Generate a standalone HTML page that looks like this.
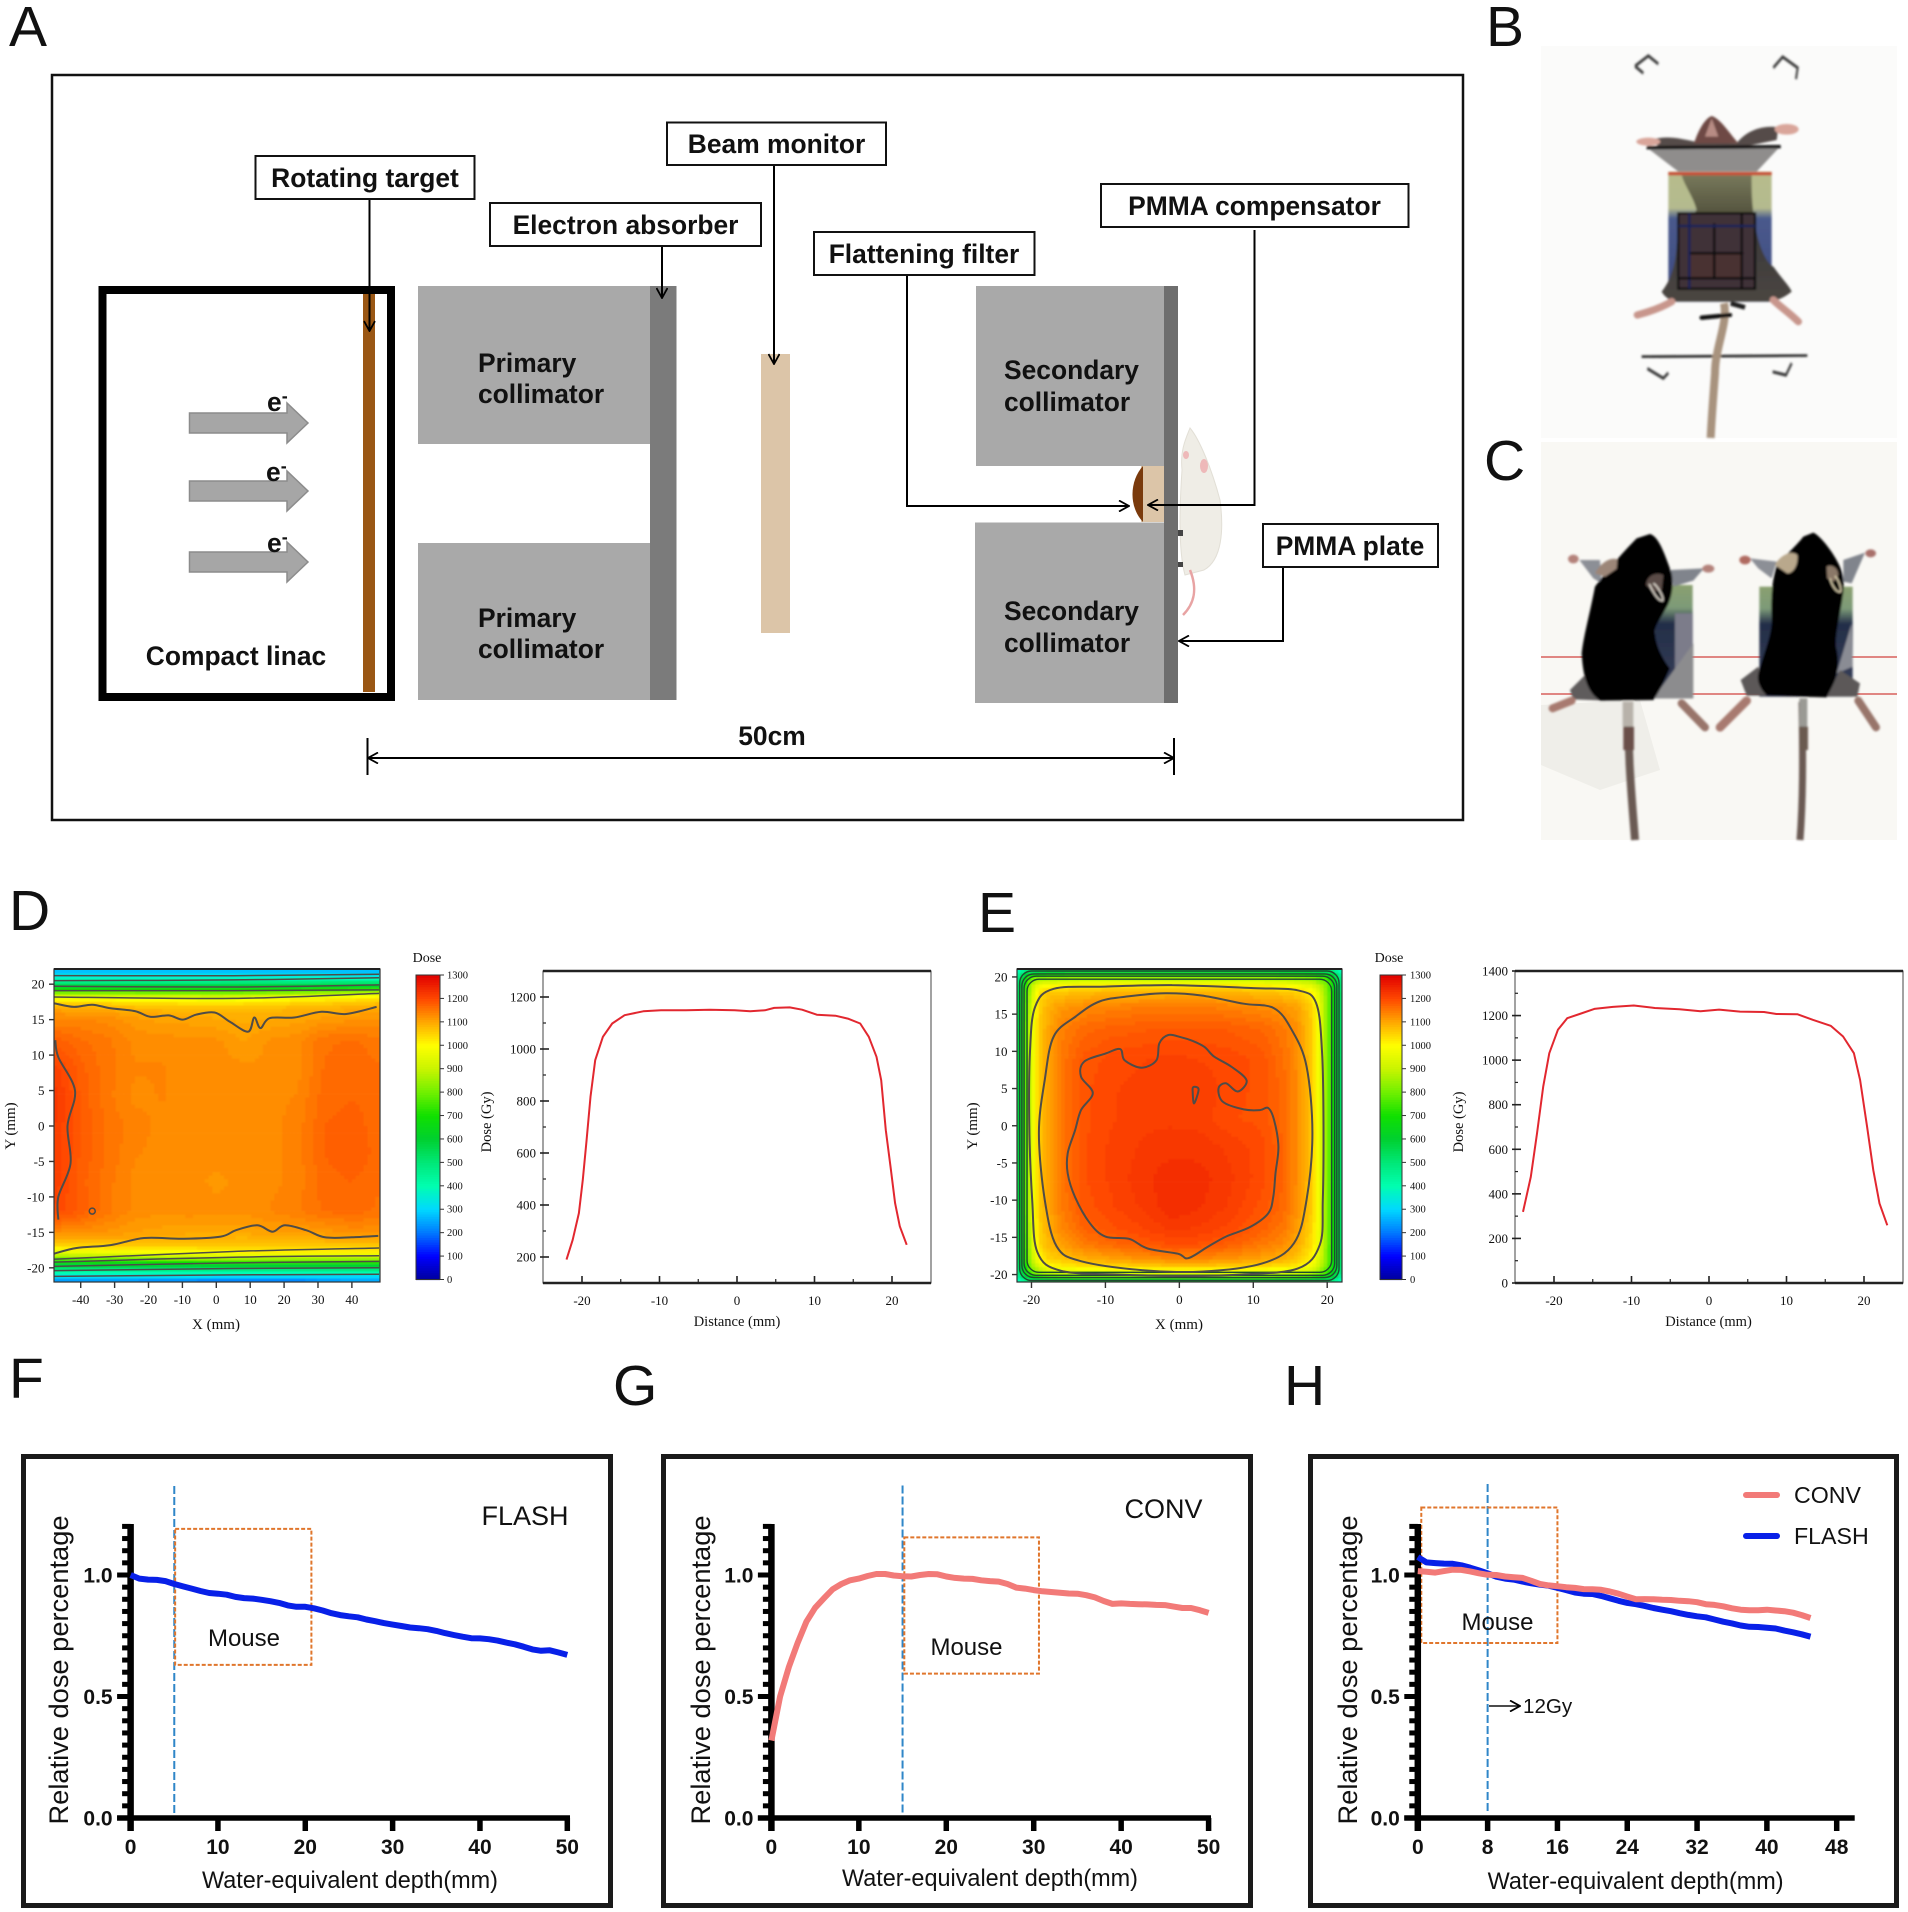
<!DOCTYPE html>
<html lang="en">
<head>
<meta charset="utf-8">
<title>Electron FLASH beam setup and dosimetry</title>
<style>
html,body{margin:0;padding:0;background:#fff}
svg{display:block}
text{font-family:"Liberation Sans",Arial,sans-serif;fill:#111}
.lab{font-weight:bold;font-size:26.4px;text-anchor:middle}
.sub{font-weight:bold;font-size:26.4px}
.pl{font-size:57px}
.sf{font-family:"Liberation Serif",serif}
</style>
</head>
<body>
<svg id="fig" xmlns="http://www.w3.org/2000/svg" width="1908" height="1912" viewBox="0 0 1908 1912">
<defs>
<marker id="ah" viewBox="0 0 12 12" refX="11" refY="6" markerWidth="12" markerHeight="12" markerUnits="userSpaceOnUse" orient="auto-start-reverse"><path d="M1,0.5 L11,6 L1,11.5" fill="none" stroke="#000" stroke-width="1.8"/></marker>
<filter id="blurD" x="-5%" y="-5%" width="110%" height="110%"><feGaussianBlur stdDeviation="0.9"/></filter>
<filter id="blurE" x="-5%" y="-5%" width="110%" height="110%"><feGaussianBlur stdDeviation="0.9"/></filter>
<filter id="blurP" x="-5%" y="-5%" width="110%" height="110%"><feGaussianBlur stdDeviation="1"/></filter>
<clipPath id="clipD"><rect x="54" y="969" width="326" height="313"/></clipPath>
<clipPath id="clipE"><rect x="1017" y="969" width="325" height="313"/></clipPath>
<linearGradient id="filmB" x1="0" y1="0" x2="0" y2="1">
<stop offset="0" stop-color="#b7bc8c"/><stop offset="0.28" stop-color="#b4ba8e"/><stop offset="0.36" stop-color="#4a5a8c"/><stop offset="1" stop-color="#3c4880"/>
</linearGradient>
<linearGradient id="filmC" x1="0" y1="0" x2="0" y2="1">
<stop offset="0" stop-color="#8aa070"/><stop offset="0.2" stop-color="#7d9a78"/><stop offset="0.34" stop-color="#232e48"/><stop offset="1" stop-color="#39405a"/>
</linearGradient>
<linearGradient id="trunkB" x1="0" y1="0" x2="0" y2="1">
<stop offset="0" stop-color="#77785a"/><stop offset="0.3" stop-color="#55543f"/><stop offset="0.4" stop-color="#3a3838"/><stop offset="1" stop-color="#4a4642"/>
</linearGradient>
</defs>
<rect x="0" y="0" width="1908" height="1912" fill="#fff"/>

<!-- panel letters -->
<text class="pl" x="9" y="46">A</text>
<text class="pl" x="1486" y="46">B</text>
<text class="pl" x="1484" y="480">C</text>
<text class="pl" x="9" y="930">D</text>
<text class="pl" x="978" y="932">E</text>
<text class="pl" x="9" y="1398">F</text>
<text class="pl" x="613" y="1405">G</text>
<text class="pl" x="1284" y="1405">H</text>

<!-- Panel A -->
<g>
<rect x="52" y="75" width="1411" height="745" fill="#fff" stroke="#111" stroke-width="2.5"/>
<rect x="102.5" y="290" width="288.500" height="407" fill="#fff" stroke="#000" stroke-width="8"/>
<rect x="363" y="294" width="12" height="398" fill="#9a5714"/>
<g fill="#a6a6a6" stroke="#8c8c8c" stroke-width="1.5">
<polygon points="189.500,413 287,413 287,403 308,423 287,443 287,433 189.500,433"/>
<polygon points="189.500,481 287,481 287,471 308,491 287,511 287,501 189.500,501"/>
<polygon points="189.500,552 287,552 287,542 308,562 287,582 287,572 189.500,572"/>
</g>
<text class="sub" x="267" y="411">e<tspan dy="-9" font-size="18">-</tspan></text>
<text class="sub" x="266" y="481">e<tspan dy="-9" font-size="18">-</tspan></text>
<text class="sub" x="267" y="552">e<tspan dy="-9" font-size="18">-</tspan></text>
<text class="lab" x="236" y="665">Compact linac</text>

<rect x="418" y="286" width="233" height="158" fill="#a9a9a9"/>
<rect x="418" y="543" width="233" height="157" fill="#a9a9a9"/>
<rect x="650" y="286" width="26.500" height="414" fill="#7b7b7b"/>
<text class="sub" x="478" y="372">Primary</text>
<text class="sub" x="478" y="403">collimator</text>
<text class="sub" x="478" y="627">Primary</text>
<text class="sub" x="478" y="658">collimator</text>

<rect x="761" y="354" width="29" height="279" fill="#dcc5a8"/>

<rect x="976" y="286" width="188" height="180" fill="#a9a9a9"/>
<rect x="975" y="522.500" width="189" height="180.500" fill="#a9a9a9"/>
<rect x="1164" y="286" width="14" height="417" fill="#6e6e6e"/>
<rect x="1141" y="466" width="23" height="56" fill="#dcc5a8"/>
<path d="M1143,466 C1130,480 1128,506 1143,522 Z" fill="#7a3a0c"/>
<text class="sub" x="1004" y="379">Secondary</text>
<text class="sub" x="1004" y="411">collimator</text>
<text class="sub" x="1004" y="620">Secondary</text>
<text class="sub" x="1004" y="652">collimator</text>

<g>
<path d="M1190,428 C1200,440 1212,470 1220,500 C1224,530 1222,560 1204,570 L1185,575 C1178,550 1180,500 1182,470 C1180,450 1186,438 1190,428 Z" fill="#efede6" stroke="#e2dfd6"/>
<ellipse cx="1204" cy="466" rx="4" ry="7" fill="#eeb9b9"/>
<ellipse cx="1186" cy="455" rx="3" ry="4" fill="#eeb9b9"/>
<path d="M1190,570 C1198,590 1194,604 1183,615" fill="none" stroke="#e8a3a3" stroke-width="2.5"/>
<rect x="1178" y="530" width="5" height="6" fill="#444"/>
<rect x="1178" y="562" width="5" height="5" fill="#444"/>
</g>

<g fill="none" stroke="#000" stroke-width="2">
<line x1="369.500" y1="199" x2="369.500" y2="331" marker-end="url(#ah)"/>
<line x1="662" y1="246" x2="662" y2="298" marker-end="url(#ah)"/>
<line x1="774" y1="165" x2="774" y2="364" marker-end="url(#ah)"/>
<polyline points="1254.500,230 1254.500,505 1148,505" marker-end="url(#ah)"/>
<polyline points="907,275 907,506 1129,506" marker-end="url(#ah)"/>
<polyline points="1283,567 1283,641 1179,641" marker-end="url(#ah)"/>
<line x1="368" y1="758" x2="1174" y2="758" marker-start="url(#ah)" marker-end="url(#ah)"/>
<line x1="367.500" y1="738" x2="367.500" y2="775"/>
<line x1="1174" y1="738" x2="1174" y2="775"/>
</g>
<text class="lab" x="772" y="745">50cm</text>

<g fill="#fff" stroke="#111" stroke-width="2">
<rect x="255.500" y="156" width="219" height="43"/>
<rect x="667" y="122.500" width="219" height="42.500"/>
<rect x="490" y="203" width="271" height="43"/>
<rect x="1101" y="184" width="307.500" height="43"/>
<rect x="814" y="232" width="220.500" height="43"/>
<rect x="1263" y="524" width="175" height="43"/>
</g>
<text class="lab" x="365" y="187">Rotating target</text>
<text class="lab" x="776.500" y="153">Beam monitor</text>
<text class="lab" x="625.500" y="234">Electron absorber</text>
<text class="lab" x="1254.500" y="215">PMMA compensator</text>
<text class="lab" x="924" y="263">Flattening filter</text>
<text class="lab" x="1350" y="555">PMMA plate</text>
</g>

<!-- Panel B photo (illustrated) -->
<g>
<rect x="1541" y="46" width="356" height="392" fill="#fbfbfa"/>
<g filter="url(#blurP)">
<g transform="translate(1500,0) scale(0.33333,0.54201)" fill="none" stroke="#3a3a3a" stroke-width="6">
<path d="M405,122 L445,103 L475,118 M405,122 L430,135"/>
<path d="M820,125 L848,105 L893,125 L888,146"/>
<path d="M442,680 L490,698 L505,688"/>
<path d="M818,686 L858,692 L875,670"/>
<line x1="425" y1="658" x2="922" y2="656" stroke="#1a1a1a" stroke-width="4.500"/>
</g>
<g transform="translate(1600,90) scale(0.33333)">
<path d="M372,640 C385,700 345,770 345,850 C340,920 335,980 332,1044" fill="none" stroke="#a8937e" stroke-width="24"/>
<path d="M150,150 C200,135 240,145 285,155 L410,160 C440,120 490,105 535,112 L530,150 L420,172 L180,172 Z" fill="#544c4a"/>
<path d="M282,160 C295,120 315,85 335,78 C360,85 385,125 415,160 Z" fill="#6e4a44"/>
<path d="M315,140 L335,85 L355,140 Z" fill="#b88c84"/>
<ellipse cx="145" cy="155" rx="36" ry="12" fill="#d9a59a"/>
<ellipse cx="560" cy="118" rx="36" ry="16" fill="#d9a59a"/>
<polygon points="140,172 540,170 470,245 235,245" fill="#8f8d8c"/>
<rect x="205" y="245" width="310" height="390" fill="url(#filmB)"/>
<rect x="205" y="246" width="310" height="10" fill="#c84a30"/>
<path d="M245,256 L455,256 C455,300 455,340 465,400 C475,470 500,520 520,530 C545,565 570,590 575,605 C545,630 520,632 510,635 L220,635 C200,625 190,615 185,605 C205,580 225,540 230,470 C232,420 260,395 290,360 C280,320 255,290 245,256 Z" fill="url(#trunkB)"/>
<rect x="235" y="370" width="230" height="228" fill="#3f3238"/>
<rect x="270" y="490" width="155" height="75" fill="#4a3232"/>
<g fill="none" stroke="#0a0a0a" stroke-width="7">
<rect x="235" y="370" width="230" height="226"/>
<line x1="268" y1="370" x2="268" y2="596" stroke="#15205a"/>
<line x1="343" y1="400" x2="343" y2="565"/>
<line x1="425" y1="370" x2="425" y2="596"/>
<line x1="235" y1="408" x2="465" y2="408" stroke="#15205a"/>
<line x1="270" y1="490" x2="430" y2="490"/>
<line x1="235" y1="565" x2="465" y2="565"/>
</g>
<line x1="140" y1="173" x2="542" y2="170" stroke="#0c0c0c" stroke-width="10"/>
<g fill="none" stroke="#c8968c" stroke-width="22" stroke-linecap="round">
<path d="M112,675 C150,665 190,650 215,635"/>
<path d="M595,695 C570,670 540,650 520,630"/>
</g>
<path d="M305,683 L390,675" stroke="#0c0c0c" stroke-width="13" stroke-linecap="round"/>
<path d="M392,640 L435,652" stroke="#1a1a1a" stroke-width="14"/>
</g>
</g>
</g>

<!-- Panel C photo (illustrated) -->
<g>
<rect x="1541" y="442" width="356" height="398" fill="#f9f8f4"/>
<path d="M1541,705 L1640,700 L1660,770 L1600,790 L1541,765 Z" fill="#efeee9"/>
<line x1="1541" y1="657" x2="1897" y2="657" stroke="#d8605c" stroke-width="1.6"/>
<line x1="1541" y1="694" x2="1897" y2="694" stroke="#d8605c" stroke-width="1.6"/>
<g filter="url(#blurP)">
<path d="M1628,702 C1628,760 1632,800 1635,840" fill="none" stroke="#6a5a52" stroke-width="8"/>
<path d="M1802,702 C1803,760 1803,800 1800,840" fill="none" stroke="#6a5a52" stroke-width="7"/>
<g transform="translate(1550,510) scale(0.33333)">
<g>
<rect x="315" y="225" width="113" height="340" fill="url(#filmC)"/>
<rect x="375" y="310" width="53" height="255" fill="#7b7b8a"/>
<polygon points="310,565 430,400 430,565" fill="#8c8c8e"/>
<polygon points="60,540 110,490 165,572 70,568" fill="#5f5b5b"/>
<polygon points="88,150 150,150 155,220 130,205" fill="#8c8f96"/>
<polygon points="362,180 462,175 430,212 370,230" fill="#80848c"/>
<ellipse cx="70" cy="147" rx="16" ry="13" fill="#b4827a"/>
<ellipse cx="475" cy="176" rx="18" ry="12" fill="#b4827a"/>
<path d="M8,595 L65,572" stroke="#a87a70" stroke-width="24" stroke-linecap="round"/>
<path d="M395,580 L465,652" stroke="#98746a" stroke-width="24" stroke-linecap="round"/>
<rect x="218" y="575" width="32" height="75" fill="#b8b2aa"/>
<rect x="220" y="650" width="32" height="70" fill="#6a5048"/>
<path d="M300,72 C325,80 340,120 365,190 C372,230 365,270 345,300 C330,330 312,350 315,370 C318,410 340,450 360,475 C340,520 325,550 310,570 L150,572 C120,550 100,520 95,430 C100,380 120,310 135,230 C165,190 215,130 260,85 Z" fill="#060606"/>
<path d="M135,190 C150,160 180,140 202,148 L200,176 L165,200 Z" fill="#9c8678"/>
<path d="M288,225 C290,195 320,185 340,195 L335,240 L310,245 Z" fill="#5a4c46"/>
<path d="M298,222 C305,240 325,275 338,272 C342,260 320,225 310,220" fill="none" stroke="#eee8dc" stroke-width="4"/>
</g>
<g>
<rect x="628" y="230" width="280" height="330" fill="url(#filmC)"/>
<polygon points="905,340 908,470 860,490" fill="#8a8c94"/>
<polygon points="572,510 625,470 650,557 590,557" fill="#5c5858"/>
<polygon points="830,560 870,480 930,520 922,560" fill="#5c5858"/>
<polygon points="600,145 680,155 665,205 625,175" fill="#8c8f96"/>
<polygon points="880,150 945,128 905,220 880,215" fill="#80848c"/>
<ellipse cx="585" cy="150" rx="17" ry="13" fill="#b06a60"/>
<ellipse cx="962" cy="130" rx="16" ry="12" fill="#a8706a"/>
<path d="M510,652 L590,572" stroke="#a87a70" stroke-width="26" stroke-linecap="round"/>
<path d="M925,572 L978,652" stroke="#98746a" stroke-width="24" stroke-linecap="round"/>
<rect x="748" y="565" width="24" height="85" fill="#9a9a94"/>
<rect x="750" y="650" width="24" height="70" fill="#6a5a50"/>
<path d="M790,68 C815,80 850,130 865,160 C880,190 885,220 878,260 C870,320 855,370 858,410 C868,450 865,480 855,510 C845,535 835,550 830,562 L650,557 C630,535 620,515 625,490 C640,430 665,380 665,330 C662,270 665,210 682,160 C710,135 745,100 760,80 Z" fill="#060606"/>
<path d="M675,165 C690,135 725,120 742,135 C745,165 730,190 712,190 Z" fill="#b9a88c"/>
<path d="M830,170 C845,160 865,175 865,195 L852,215 L832,205 Z" fill="#8a7868"/>
<path d="M840,205 C845,225 860,250 872,245 C875,230 862,205 855,198" fill="none" stroke="#e8dcb8" stroke-width="4"/>
</g>
</g>
</g>
</g>

<g id="charts"></g>
</svg>

<script>
/* ---------- colour-bar data ---------- */
const colorValues = [0,100,200,300,400,500,600,700,800,900,1000,1100,1200,1300];
const colorHexes = ['#00009c','#0000ff','#0078ff','#00d8ff','#00ffb0','#00e878','#00d030','#10e000','#70f000','#c8f400','#ffff00','#ffa800','#ff4800','#e00000'];
const colorbarTicks = [0,100,200,300,400,500,600,700,800,900,1000,1100,1200,1300];

/* ---------- panel D heat map ---------- */
const dX = [-48,-40,-32,-24,-16,-8,0,8,16,24,32,40,48];
const dY = [22,21.5,21,20.5,20,19.5,19,18.5,18,17,16,15,12,8,4,0,-4,-8,-12,-15,-16,-17,-18,-18.5,-19,-19.5,-20,-20.5,-21,-21.5,-22];
const dDose = [
[250,250,250,250,250,250,250,250,250,250,250,250,250],
[300,300,300,300,300,310,310,310,310,310,310,300,300],
[340,340,340,340,340,340,345,345,345,350,350,350,340],
[420,420,420,420,420,430,430,430,430,430,440,440,440],
[540,540,540,540,540,540,540,550,550,550,560,560,560],
[640,640,640,640,640,640,640,640,650,650,660,660,670],
[740,740,740,740,740,740,740,740,750,750,760,770,790],
[880,880,880,880,870,870,870,880,900,920,940,960,980],
[990,990,980,975,975,970,960,970,985,1000,1010,1020,1030],
[1085,1080,1075,1065,1060,1060,1055,1060,1065,1070,1075,1085,1090],
[1120,1115,1110,1100,1095,1090,1090,1085,1090,1095,1100,1105,1110],
[1135,1135,1130,1115,1105,1105,1100,1095,1100,1105,1115,1120,1125],
[1180,1160,1150,1130,1130,1125,1125,1110,1125,1130,1155,1160,1150],
[1215,1175,1150,1135,1135,1130,1130,1125,1125,1130,1160,1170,1160],
[1225,1180,1150,1130,1135,1130,1125,1125,1130,1135,1165,1170,1165],
[1220,1180,1155,1140,1130,1130,1125,1125,1130,1140,1170,1175,1165],
[1220,1180,1155,1135,1130,1125,1125,1125,1130,1140,1170,1180,1165],
[1215,1175,1150,1130,1125,1125,1120,1125,1130,1140,1165,1170,1160],
[1205,1180,1150,1130,1125,1130,1125,1125,1135,1145,1160,1165,1155],
[1130,1125,1120,1110,1105,1100,1100,1100,1110,1110,1115,1125,1125],
[1090,1095,1095,1095,1090,1090,1085,1080,1085,1085,1095,1100,1100],
[1040,1040,1050,1055,1055,1055,1060,1060,1060,1060,1060,1060,1060],
[930,950,960,970,975,980,990,1000,1000,1000,1000,1000,1000],
[840,850,870,880,890,900,920,930,930,930,930,930,930],
[700,710,720,740,750,760,770,780,780,780,780,780,780],
[620,620,630,630,640,640,650,650,650,650,650,650,650],
[540,540,540,540,540,540,550,550,550,550,550,550,550],
[440,440,440,440,440,440,440,440,440,440,440,440,440],
[350,350,350,350,350,350,350,350,340,340,340,340,340],
[270,270,270,270,270,270,260,260,260,260,270,270,270],
[210,210,210,200,190,180,170,170,170,170,210,230,240]
];
const dContourUpperX = [-47.8,-42,-36.6,-31.2,-24,-19.5,-14,-9.9,-6,-0.5,4,9.4,11.2,13,15.7,23,31,38.3,47.3];
const dContourUpperY = [17.3,16.8,17.1,16.6,16.2,15.4,15.6,15,15.7,16,14.7,13.3,15.3,13.8,15.2,15.3,16.1,15.8,16.8];
const dContourLowerX = [-47.8,-41.2,-31.2,-21.3,-9.6,1.3,5.8,12.1,16.6,20.2,26.5,32,40,47.8];
const dContourLowerY = [-18,-17.2,-16.8,-15.8,-15.9,-15.6,-14.7,-14,-14.9,-14,-14.7,-15.7,-15.7,-15.5];
const dContourLeftX = [-47.5,-46.6,-41.7,-43.9,-43,-46.6,-46.6];
const dContourLeftY = [12.1,9.7,5,0,-5.3,-10,-13.2];
const dBandX = [-48,5,48];
const dBandLevels = [[18.2,18,18.7],[19.1,19.1,19.2],[19.7,19.6,19.9],[20.5,20.6,20.9],[21.2,21.2,21.4],[-18.8,-17.7,-17.2],[-19.2,-18.5,-18.3],[-19.8,-19.3,-19.1],[-20.4,-20.1,-20],[-21.2,-21,-20.9]];
const dSpotX = [-36.6];
const dSpotY = [-12];
const dXTicks = [-40,-30,-20,-10,0,10,20,30,40];
const dYTicks = [20,15,10,5,0,-5,-10,-15,-20];

/* ---------- panel D profile ---------- */
const dProfileX = [-22,-21.2,-20.4,-19.9,-19.4,-18.9,-18.3,-17.3,-16.1,-14.5,-12.1,-9.8,-6.6,-3.5,-0.3,1.7,3.6,4.8,6.8,8.4,10.3,12.7,14.3,15.9,17,18,18.6,19.2,19.8,20.4,21,21.9];
const dProfileDose = [190,266,369,497,650,816,957,1047,1098,1130,1145,1149,1149,1151,1149,1145,1149,1158,1160,1151,1132,1128,1117,1098,1047,970,880,688,548,407,318,247];
const dProfileXTicks = [-20,-10,0,10,20];
const dProfileYTicks = [200,400,600,800,1000,1200];

/* ---------- panel E heat map ---------- */
const eX = [-22,-21,-20,-19,-18,-16,-13,-9,-5,-1,3,7,11,14,16,18,19,20,21,22];
const eY = [21,20.5,20,19,18,16,13,9,5,1,-3,-7,-11,-14,-16,-18,-19,-20,-20.5,-21];
const eDose = [
[330,420,480,500,510,520,520,520,520,520,520,520,520,520,520,510,500,480,420,330],
[400,520,600,620,630,640,640,640,640,640,640,640,640,640,640,630,620,600,520,400],
[440,620,770,790,800,810,820,820,820,820,820,820,820,810,800,790,740,730,600,440],
[480,680,880,960,980,990,1000,1010,1010,1010,1010,1010,1000,990,970,930,880,800,640,470],
[500,700,900,1030,1060,1065,1075,1085,1085,1090,1090,1085,1075,1065,1050,1010,930,815,650,480],
[510,710,930,1050,1085,1115,1130,1140,1145,1145,1145,1140,1130,1120,1105,1050,960,820,650,480],
[520,720,950,1060,1095,1140,1165,1175,1180,1185,1185,1180,1170,1150,1125,1060,965,820,650,480],
[520,720,950,1060,1095,1150,1185,1200,1205,1210,1205,1200,1190,1160,1130,1060,965,820,650,480],
[520,720,950,1060,1095,1150,1190,1205,1210,1215,1215,1200,1190,1165,1130,1060,965,820,650,480],
[520,720,950,1060,1095,1150,1190,1205,1215,1215,1212,1195,1190,1165,1130,1060,965,820,650,480],
[520,720,950,1060,1095,1150,1192,1210,1220,1225,1225,1215,1200,1170,1130,1060,965,820,650,480],
[520,720,950,1060,1095,1150,1192,1210,1225,1240,1235,1220,1200,1170,1130,1060,965,820,650,480],
[520,720,950,1060,1095,1145,1185,1205,1220,1240,1230,1215,1190,1165,1125,1060,965,820,650,480],
[510,710,930,1050,1085,1130,1170,1190,1205,1220,1215,1200,1175,1150,1110,1045,955,820,650,480],
[510,700,920,1040,1075,1110,1145,1165,1180,1195,1190,1175,1150,1130,1095,1035,950,815,650,480],
[500,690,890,1000,1045,1065,1090,1105,1120,1130,1130,1120,1105,1090,1065,1005,930,810,650,480],
[480,660,840,930,985,1015,1030,1040,1050,1060,1060,1055,1040,1030,1015,975,900,790,640,470],
[450,600,750,810,850,875,890,900,905,910,910,905,900,890,875,835,780,720,600,450],
[400,520,610,640,660,680,700,710,710,710,710,710,710,700,680,660,630,600,520,400],
[340,430,490,500,510,520,530,530,530,530,530,530,530,530,520,510,500,480,430,340]
];
const eInnerX = [-1.5,0.2,1.8,3.4,4.7,7.1,9.1,7.9,6.3,5.3,5.9,8.7,10.9,12,12.8,13.4,13,12.7,12,9.6,6.3,3.8,1.2,-0.2,-4.3,-6.8,-10,-12.1,-14.1,-15.1,-15.1,-14.1,-13.3,-11.7,-13.3,-12.9,-10,-8,-7.4,-5.1,-3.1,-2.7];
const eInnerY = [12.2,11.9,11.4,10.6,9.3,7.9,6.1,4.6,5.7,5,3.2,2.2,2.1,2.4,0.8,-2.8,-6.4,-9.6,-11.8,-13.6,-14.9,-16.3,-17.8,-17.2,-16.5,-15.2,-14.9,-13.1,-9.6,-6.4,-3.7,-0.6,2.1,4.4,6.6,8.6,9.7,10.3,8.8,7.8,8.8,11.1];
const eIslandX = [1.9,2.6,2,1.8];
const eIslandY = [5.2,4.9,3,4.5];
const eMiddleX = [-1.9,3,8.7,12.8,15.2,17.2,18,17.2,15.5,11.2,3,-5.1,-13.3,-16.6,-18.2,-19,-18.2,-17,-14,-10.8,-6.8];
const eMiddleY = [17.8,17.5,16.4,15.8,12.9,8,-1,-10,-15.8,-18.5,-19.6,-19.4,-18.2,-16.2,-10,-1,6.2,12,14.7,16.7,17.4];
const eOuterX = [-1,10,16,18.5,19.3,19.5,19.4,19,16,8,0,-8,-16,-19.2,-19.9,-20.3,-20.2,-19.5,-17,-10];
const eOuterY = [18.9,18.5,18.2,16.5,10,0,-10,-16,-19.2,-20,-20.2,-20,-19.5,-17,-10,0,10,16,18.4,18.7];
const eEdgeX = [20.6,21,21.3,21.6];
const eEdgeY = [19.7,20.1,20.4,20.8];
const eXTicks = [-20,-10,0,10,20];
const eYTicks = [20,15,10,5,0,-5,-10,-15,-20];

/* ---------- panel E profile ---------- */
const eProfileX = [-24,-23,-22.2,-21.4,-20.6,-19.5,-18.3,-16.7,-14.8,-12.4,-9.7,-7,-3.8,-1.1,1.3,4,7.1,8.7,11.4,13.4,15.7,17.3,18.7,19.5,20.4,21.2,22,23];
const eProfileDose = [319,476,671,881,1031,1136,1188,1207,1230,1239,1245,1234,1228,1219,1227,1218,1216,1207,1206,1181,1154,1106,1031,911,701,506,357,259];
const eProfileXTicks = [-20,-10,0,10,20];
const eProfileYTicks = [0,200,400,600,800,1000,1200,1400];

/* ---------- panel F ---------- */
const fDepth = [0,1,2,3,4,5,6,7,8,9,10,11,12,13,14,15,16,17,18,19,20,21,22,23,24,25,26,27,28,29,30,31,32,33,34,35,36,37,38,39,40,41,42,43,44,45,46,47,48,49,50];
const fFlash = [1,.985,.981,.98,.975,.963,.953,.944,.934,.926,.923,.919,.91,.905,.903,.898,.892,.885,.875,.869,.869,.863,.854,.843,.835,.83,.826,.817,.81,.802,.796,.79,.784,.781,.777,.77,.761,.753,.746,.74,.739,.736,.73,.722,.715,.705,.694,.688,.69,.681,.671];
const fXTicks = [0,10,20,30,40,50];
const fBoxDepth = [5.1,20.7];
const fBoxDose = [1.19,0.63];
const fMarkerDepth = [5];

/* ---------- panel G ---------- */
const gDepth = [0,1,2,3,4,5,6,7,8,9,10,11,12,13,14,15,16,17,18,19,20,21,22,23,24,25,26,27,28,29,30,31,32,33,34,35,36,37,38,39,40,41,42,43,44,45,46,47,48,49,50];
const gConv = [.319,.5,.622,.72,.808,.865,.904,.941,.963,.978,.985,.996,1.004,1.004,.998,.995,.994,1,1.004,1.003,.994,.988,.985,.984,.978,.975,.973,.963,.948,.944,.938,.933,.93,.927,.924,.923,.917,.908,.893,.881,.883,.881,.88,.879,.877,.876,.87,.864,.864,.855,.844];
const gXTicks = [0,10,20,30,40,50];
const gBoxDepth = [15.2,30.6];
const gBoxDose = [1.155,0.594];
const gMarkerDepth = [15];

/* ---------- panel H ---------- */
const hDepth = [0,1,2,3,4,5,6,7,8,9,10,11,12,13,14,15,16,17,18,19,20,21,22,23,24,25,26,27,28,29,30,31,32,33,34,35,36,37,38,39,40,41,42,43,44,45];
const hFlash = [1.074,1.052,1.049,1.047,1.046,1.04,1.03,1.019,1.007,.993,.985,.981,.973,.966,.96,.956,.947,.938,.928,.923,.922,.914,.904,.894,.885,.88,.873,.864,.857,.851,.843,.836,.83,.826,.817,.808,.801,.792,.787,.786,.783,.78,.771,.764,.756,.746];
const hConv = [1.016,1.013,1.01,1.016,1.022,1.021,1.015,1.007,1.001,1,.994,.991,.988,.976,.963,.957,.954,.95,.947,.942,.941,.939,.932,.923,.911,.9,.901,.9,.898,.897,.894,.892,.888,.88,.877,.871,.863,.857,.855,.855,.857,.854,.851,.845,.835,.823];
const hXTicks = [0,8,16,24,32,40,48];
const hBoxDepth = [0.4,16];
const hBoxDose = [1.278,0.72];
const hMarkerDepth = [8];

const depthYMajor = [0,0.5,1];
const depthYMajorLabels = ['0.0','0.5','1.0'];
const depthYMinorCount = 24;

/* ---------- helpers ---------- */
const NS = 'http://www.w3.org/2000/svg';
const root = document.getElementById('charts');
function mk(parent, tag, attrs, text){
  const e = document.createElementNS(NS, tag);
  for (const k in attrs) e.setAttribute(k, attrs[k]);
  if (text !== undefined) e.textContent = text;
  parent.appendChild(e);
  return e;
}
function linear(d0, d1, r0, r1){ return v => r0 + (v - d0) / (d1 - d0) * (r1 - r0); }
function doseColor(v){
  let i = 0;
  while (i < colorValues.length - 2 && v > colorValues[i + 1]) i++;
  const t = Math.max(0, Math.min(1, (v - colorValues[i]) / (colorValues[i + 1] - colorValues[i])));
  const a = colorHexes[i], b = colorHexes[i + 1];
  const ch = (h, p) => parseInt(h.substr(p, 2), 16);
  const mix = p => Math.round(ch(a, p) + (ch(b, p) - ch(a, p)) * t);
  return 'rgb(' + mix(1) + ',' + mix(3) + ',' + mix(5) + ')';
}
function smoothPath(xs, ys, sx, sy, closed){
  const n = xs.length;
  const P = i => closed ? [sx(xs[(i + n) % n]), sy(ys[(i + n) % n])] : [sx(xs[Math.max(0, Math.min(n - 1, i))]), sy(ys[Math.max(0, Math.min(n - 1, i))])];
  let d = 'M' + P(0).join(',');
  const last = closed ? n : n - 1;
  for (let i = 0; i < last; i++){
    const p0 = P(i - 1), p1 = P(i), p2 = P(i + 1), p3 = P(i + 2);
    const k = 1 / 6;
    d += ' C' + (p1[0] + (p2[0] - p0[0]) * k).toFixed(1) + ',' + (p1[1] + (p2[1] - p0[1]) * k).toFixed(1) +
         ' ' + (p2[0] - (p3[0] - p1[0]) * k).toFixed(1) + ',' + (p2[1] - (p3[1] - p1[1]) * k).toFixed(1) +
         ' ' + p2[0].toFixed(1) + ',' + p2[1].toFixed(1);
  }
  return closed ? d + 'Z' : d;
}
function polyPoints(xs, ys, sx, sy){
  return xs.map((x, i) => sx(x).toFixed(1) + ',' + sy(ys[i]).toFixed(1)).join(' ');
}

/* ---------- heat map: each grid interval is shaded from its four corner doses ---------- */
function drawHeatmap(name, xs, ys, grid, sx, sy, clip, blur){
  const g = mk(root, 'g', {'clip-path': 'url(#' + clip + ')'});
  
  
  const inner = mk(g, 'g', {filter: 'url(#' + blur + ')'});
  for (let r = 0; r < ys.length - 1; r++){
    const py0 = sy(ys[r]), py1 = sy(ys[r + 1]);
    const ny = Math.max(1, Math.ceil((py1 - py0) / 4));
    for (let c = 0; c < xs.length - 1; c++){
      const px0 = sx(xs[c]), px1 = sx(xs[c + 1]);
      const nx = Math.max(1, Math.ceil((px1 - px0) / 4));
      for (let j = 0; j < ny; j++){
        for (let i = 0; i < nx; i++){
          const u = (i + 0.5) / nx, w = (j + 0.5) / ny;
          const top = grid[r][c] + (grid[r][c + 1] - grid[r][c]) * u;
          const bot = grid[r + 1][c] + (grid[r + 1][c + 1] - grid[r + 1][c]) * u;
          const v = Math.round((top + (bot - top) * w) / 12) * 12;
          let x0 = px0 + (px1 - px0) * i / nx, x1 = px0 + (px1 - px0) * (i + 1) / nx;
          let y0 = py0 + (py1 - py0) * j / ny, y1 = py0 + (py1 - py0) * (j + 1) / ny;
          if (c === 0 && i === 0) x0 -= 4;
          if (c === xs.length - 2 && i === nx - 1) x1 += 4;
          if (r === 0 && j === 0) y0 -= 4;
          if (r === ys.length - 2 && j === ny - 1) y1 += 4;
          const cell = mk(inner, 'rect', {x: x0.toFixed(1), y: y0.toFixed(1), width: (x1 - x0 + 0.4).toFixed(1), height: (y1 - y0 + 0.4).toFixed(1), fill: doseColor(v)});
          
          
        }
      }
    }
  }
  return g;
}
function contour(parent, name, d){
  const p = mk(parent, 'path', {d: d, fill: 'none', stroke: '#4f4c48', 'stroke-width': 2, 'stroke-linejoin': 'round'});
  
  
  return p;
}
function serifText(x, y, str, size, anchor, name, rotate){
  const attrs = {x: x, y: y, 'font-size': size, 'text-anchor': anchor, class: 'sf', fill: '#222'};
  if (rotate) attrs.transform = 'rotate(-90 ' + x + ' ' + y + ')';
  const t = mk(root, 'text', attrs, str);
  
  
  return t;
}
function heatAxes(name, sx, sy, xTicks, yTicks, px0, px1, py0, py1){
  const f = mk(root, 'rect', {x: px0, y: py0, width: px1 - px0, height: py1 - py0, fill: 'none', stroke: '#333', 'stroke-width': 1.2});
  
  
  const top = mk(root, 'line', {x1: px0, y1: py0, x2: px1, y2: py0, stroke: '#222', 'stroke-width': 2});
  
  
  xTicks.forEach(v => {
    const t = mk(root, 'line', {x1: sx(v), y1: py1, x2: sx(v), y2: py1 + 6, stroke: '#333', 'stroke-width': 1.4});
    
    
    serifText(sx(v), py1 + 22, String(v), 13, 'middle', name + '-x-tick-label');
  });
  yTicks.forEach(v => {
    const t = mk(root, 'line', {x1: px0 - 5, y1: sy(v), x2: px0, y2: sy(v), stroke: '#333', 'stroke-width': 1.4});
    
    
    serifText(px0 - 9.5, sy(v) + 4.5, String(v), 13, 'end', name + '-y-tick-label');
  });
}
function colorbar(name, x, w, labelX, titleX){
  const sy = linear(0, 1300, 1279.5, 975);
  for (let v = 0; v < 1300; v += 10){
    const c = mk(root, 'rect', {x: x, y: sy(v + 10).toFixed(2), width: w, height: (sy(v) - sy(v + 10) + 0.6).toFixed(2), fill: doseColor(v + 5)});
    
    
  }
  const b = mk(root, 'rect', {x: x, y: 975, width: w, height: 304.5, fill: 'none', stroke: '#333', 'stroke-width': 1});
  
  
  colorbarTicks.forEach(v => {
    const t = mk(root, 'line', {x1: x + w, y1: sy(v), x2: x + w + 4, y2: sy(v), stroke: '#333', 'stroke-width': 1});
    
    
    serifText(labelX, sy(v) + 3.5, String(v), 10.5, 'start', name + '-colorbar-label');
  });
  serifText(titleX, 962, 'Dose', 14, 'middle', name + '-colorbar-title');
}

/* ---------- profile plot ---------- */
function profilePlot(name, xs, ys, px0, px1, py0, py1, sx, sy, xTicks, yTicks, yMinorStep, xMid, xLabelX, yLabelX){
  const b = mk(root, 'rect', {x: px0, y: py0, width: px1 - px0, height: py1 - py0, fill: '#fff', stroke: '#444', 'stroke-width': 1});
  
  
  const top = mk(root, 'line', {x1: px0, y1: py0, x2: px1, y2: py0, stroke: '#222', 'stroke-width': 2.5});
  
  
  const bot = mk(root, 'line', {x1: px0, y1: py1, x2: px1, y2: py1, stroke: '#222', 'stroke-width': 2.5});
  
  
  xTicks.forEach((v, i) => {
    const t = mk(root, 'line', {x1: sx(v), y1: py1 - 7, x2: sx(v), y2: py1, stroke: '#222', 'stroke-width': 1.6});
    
    
    serifText(sx(v), py1 + 22, String(v), 13, 'middle', name + '-x-tick-label');
    if (i < xTicks.length - 1){
      const m = mk(root, 'line', {x1: sx((v + xTicks[i + 1]) / 2), y1: py1 - 4, x2: sx((v + xTicks[i + 1]) / 2), y2: py1, stroke: '#222', 'stroke-width': 1.2});
      
      
    }
  });
  yTicks.forEach(v => {
    const t = mk(root, 'line', {x1: px0 - 3, y1: sy(v), x2: px0 + 6, y2: sy(v), stroke: '#222', 'stroke-width': 1.6});
    
    
    serifText(px0 - 7, sy(v) + 4.5, String(v), 13, 'end', name + '-y-tick-label');
    if (sy(v + yMinorStep) >= py0){
      const m = mk(root, 'line', {x1: px0, y1: sy(v + yMinorStep), x2: px0 + 3, y2: sy(v + yMinorStep), stroke: '#222', 'stroke-width': 1.2});
      
      
    }
  });
  const l = mk(root, 'polyline', {points: polyPoints(xs, ys, sx, sy), fill: 'none', stroke: '#e2272f', 'stroke-width': 2, 'stroke-linejoin': 'round'});
  
  
  serifText(xLabelX, py1 + 43, 'Distance (mm)', 14.5, 'middle', name + '-x-axis-title');
  serifText(yLabelX, (py0 + py1) / 2 - 5, 'Dose (Gy)', 14.5, 'middle', name + '-y-axis-title', true);
}

/* ---------- depth-dose chart ---------- */
function depthChart(c){
  const frame = mk(root, 'rect', {x: c.fx0 + 2.5, y: 1456.5, width: c.fx1 - c.fx0 - 5, height: 449, fill: '#fff', stroke: '#1a1a1a', 'stroke-width': 5});
  
  
  const sx = linear(0, c.xMax, c.px0, c.px1);
  const sy = linear(0, 1, 1818, 1575);

  const vLine = mk(root, 'line', {x1: sx(c.marker[0]), y1: c.markerTop, x2: sx(c.marker[0]), y2: 1814, stroke: '#2f86c8', 'stroke-width': 2, 'stroke-dasharray': '8 3'});
  
  

  const bx = sx(c.boxX[0]), bx2 = sx(c.boxX[1]), by = sy(c.boxY[0]), by2 = sy(c.boxY[1]);
  const box = mk(root, 'rect', {x: bx, y: by, width: bx2 - bx, height: by2 - by, fill: 'none', stroke: '#e0762c', 'stroke-width': 2, 'stroke-dasharray': '4 2'});
  
  

  const spine = mk(root, 'line', {x1: c.px0, y1: sy(1.21), x2: c.px0, y2: 1831, stroke: '#000', 'stroke-width': 6.5});
  
  
  for (let k = 0; k <= depthYMinorCount; k++){
    const v = k / 20;
    const t = mk(root, 'line', {x1: c.px0 - 8.5, y1: sy(v), x2: c.px0, y2: sy(v), stroke: '#000', 'stroke-width': 5});
    
    
  }
  depthYMajor.forEach((v, i) => {
    const t = mk(root, 'line', {x1: c.px0 - 13.5, y1: sy(v), x2: c.px0, y2: sy(v), stroke: '#000', 'stroke-width': 5});
    
    
    const l = mk(root, 'text', {x: c.px0 - 18, y: sy(v) + 7.5, 'font-size': 21, 'font-weight': 'bold', 'text-anchor': 'end'}, depthYMajorLabels[i]);
    
    
  });
  const xAxis = mk(root, 'line', {x1: c.px0 - 13.5, y1: 1818, x2: c.axisEnd, y2: 1818, stroke: '#000', 'stroke-width': 5.5});
  
  
  c.xTicks.forEach(v => {
    const t = mk(root, 'line', {x1: sx(v), y1: 1818, x2: sx(v), y2: 1831, stroke: '#000', 'stroke-width': 5.5});
    
    
    const l = mk(root, 'text', {x: sx(v), y: 1854, 'font-size': 21, 'font-weight': 'bold', 'text-anchor': 'middle'}, String(v));
    
    
  });
  c.series.forEach(s => {
    const l = mk(root, 'polyline', {points: polyPoints(c.depth, s.values, sx, sy), fill: 'none', stroke: s.color, 'stroke-width': 6, 'stroke-linejoin': 'round'});
    
    
  });
  const yt = mk(root, 'text', {x: c.yLabelX, y: 1670, 'font-size': 27, 'text-anchor': 'middle', textLength: 309, lengthAdjust: 'spacingAndGlyphs', transform: 'rotate(-90 ' + c.yLabelX + ' 1670)'}, 'Relative dose percentage');
  
  
  const xt = mk(root, 'text', {x: c.xLabelX, y: c.xLabelY, 'font-size': 24, 'text-anchor': 'middle', textLength: 296, lengthAdjust: 'spacingAndGlyphs'}, 'Water-equivalent depth(mm)');
  
  
  const ml = mk(root, 'text', {x: c.mouseX, y: c.mouseY, 'font-size': 24, 'text-anchor': 'middle'}, 'Mouse');
  
  
  return {sx, sy};
}

/* ---------- build D ---------- */
const dSx = linear(-48, 48, 53.6, 379);
const dSy = linear(-22, 22, 1282, 970);
const dHeat = drawHeatmap('panel-d', dX, dY, dDose, dSx, dSy, 'clipD', 'blurD');
dBandLevels.forEach(level => {
  const p = contour(dHeat, 'panel-d-band-contour', smoothPath(dBandX, level, dSx, dSy, false));
  p.setAttribute('stroke-width', 1.5);
});
contour(dHeat, 'panel-d-upper-contour', smoothPath(dContourUpperX, dContourUpperY, dSx, dSy, false));
contour(dHeat, 'panel-d-lower-contour', smoothPath(dContourLowerX, dContourLowerY, dSx, dSy, false));
contour(dHeat, 'panel-d-left-contour', smoothPath(dContourLeftX, dContourLeftY, dSx, dSy, false));
dSpotX.forEach((x, i) => {
  const s = mk(dHeat, 'circle', {cx: dSx(x), cy: dSy(dSpotY[i]), r: 3, fill: 'none', stroke: '#4a4a48', 'stroke-width': 1.5});
  
  
});
heatAxes('panel-d', dSx, dSy, dXTicks, dYTicks, 54, 380, 969, 1282);
serifText(216, 1329, 'X (mm)', 15, 'middle', 'panel-d-x-axis-title');
serifText(15, 1126, 'Y (mm)', 15, 'middle', 'panel-d-y-axis-title', true);
colorbar('panel-d', 416, 24, 447, 427);
const dpSx = linear(-20, 20, 582, 892);
const dpSy = linear(200, 1200, 1257, 997);
profilePlot('panel-d-profile', dProfileX, dProfileDose, 543, 931, 971, 1283, dpSx, dpSy, dProfileXTicks, dProfileYTicks, 100, 737, 737, 491);

/* ---------- build E ---------- */
const eSx = linear(-22, 22, 1016.7, 1342);
const eSy = linear(-21, 21, 1282, 969.5);
const eHeat = drawHeatmap('panel-e', eX, eY, eDose, eSx, eSy, 'clipE', 'blurE');
eEdgeX.forEach((ox, i) => {
  const oy = eEdgeY[i];
  const r = mk(eHeat, 'rect', {x: eSx(-ox), y: eSy(oy), width: eSx(ox) - eSx(-ox), height: eSy(-oy) - eSy(oy), rx: 12, ry: 12, fill: 'none', stroke: '#1f4a30', 'stroke-width': 1.4});
  
  
});
contour(eHeat, 'panel-e-outer-contour', smoothPath(eOuterX, eOuterY, eSx, eSy, true));
contour(eHeat, 'panel-e-middle-contour', smoothPath(eMiddleX, eMiddleY, eSx, eSy, true));
contour(eHeat, 'panel-e-inner-contour', smoothPath(eInnerX, eInnerY, eSx, eSy, true));
contour(eHeat, 'panel-e-island-contour', smoothPath(eIslandX, eIslandY, eSx, eSy, true));
heatAxes('panel-e', eSx, eSy, eXTicks, eYTicks, 1017, 1342, 969, 1282);
serifText(1179, 1329, 'X (mm)', 15, 'middle', 'panel-e-x-axis-title');
serifText(977, 1126, 'Y (mm)', 15, 'middle', 'panel-e-y-axis-title', true);
colorbar('panel-e', 1380, 22, 1410, 1389);
const epSx = linear(-20, 20, 1554, 1864);
const epSy = linear(0, 1400, 1283, 971);
profilePlot('panel-e-profile', eProfileX, eProfileDose, 1515, 1903, 971, 1283, epSx, epSy, eProfileXTicks, eProfileYTicks, 100, 1709, 1708.5, 1463);

/* ---------- build F, G, H ---------- */
depthChart({name: 'panel-f', fx0: 21, fx1: 613, px0: 130.6, px1: 567.3, xMax: 50, axisEnd: 570, depth: fDepth,
  xTicks: fXTicks, marker: fMarkerDepth, markerTop: 1486, boxX: fBoxDepth, boxY: fBoxDose,
  series: [{label: 'flash', values: fFlash, color: '#0820e8'}],
  yLabelX: 68, xLabelX: 350, xLabelY: 1888, mouseX: 244, mouseY: 1646});
const fT = mk(root, 'text', {x: 525, y: 1525, 'font-size': 27, 'text-anchor': 'middle'}, 'FLASH');



depthChart({name: 'panel-g', fx0: 661, fx1: 1253, px0: 771.4, px1: 1208.6, xMax: 50, axisEnd: 1211, depth: gDepth,
  xTicks: gXTicks, marker: gMarkerDepth, markerTop: 1485.5, boxX: gBoxDepth, boxY: gBoxDose,
  series: [{label: 'conv', values: gConv, color: '#f27a78'}],
  yLabelX: 710, xLabelX: 990, xLabelY: 1886, mouseX: 966.5, mouseY: 1655});
const gT = mk(root, 'text', {x: 1163.5, y: 1518, 'font-size': 27, 'text-anchor': 'middle'}, 'CONV');



depthChart({name: 'panel-h', fx0: 1308, fx1: 1899, px0: 1417.8, px1: 1836.7, xMax: 48, axisEnd: 1854.7, depth: hDepth,
  xTicks: hXTicks, marker: hMarkerDepth, markerTop: 1484, boxX: hBoxDepth, boxY: hBoxDose,
  series: [{label: 'flash', values: hFlash, color: '#0820e8'}, {label: 'conv', values: hConv, color: '#f27a78'}],
  yLabelX: 1357, xLabelX: 1635.6, xLabelY: 1889, mouseX: 1497.5, mouseY: 1630});

const hArrow = mk(root, 'line', {x1: 1489, y1: 1706, x2: 1520, y2: 1706, stroke: '#111', 'stroke-width': 1.6, 'marker-end': 'url(#ah)'});


const hDose = mk(root, 'text', {x: 1523, y: 1713, 'font-size': 20.6}, '12Gy');



const legConv = mk(root, 'line', {x1: 1746, y1: 1495, x2: 1777, y2: 1495, stroke: '#f27a78', 'stroke-width': 6, 'stroke-linecap': 'round'});


const legConvT = mk(root, 'text', {x: 1794, y: 1503, 'font-size': 23.2}, 'CONV');


const legFlash = mk(root, 'line', {x1: 1746, y1: 1536, x2: 1777, y2: 1536, stroke: '#0820e8', 'stroke-width': 6, 'stroke-linecap': 'round'});


const legFlashT = mk(root, 'text', {x: 1794, y: 1544, 'font-size': 23.2}, 'FLASH');


</script>
</body>
</html>
